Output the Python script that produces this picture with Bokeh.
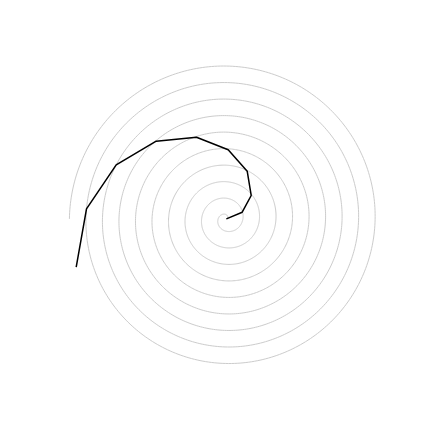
import numpy as np
from bokeh.plotting import figure
from bokeh.embed import file_html
from bokeh.resources import INLINE

# Black path (data coordinates)
path_x = [0.0, 6.01, 9.43, 7.91, 0.68, -11.37, -26.69, -41.90, -53.19, -57.11]
path_y = [0.0, 2.55, 8.90, 18.14, 26.27, 31.06, 29.54, 20.57, 3.84, -18.37]

# Background guide spiral: r = theta, 9.5 turns
spiral_turns = 9.5

p = figure(width=416, height=416, output_backend="svg", toolbar_location=None,
           x_range=(-85.89, 72.28), y_range=(-75.13, 83.04),
           min_border=0, outline_line_color=None)
p.axis.visible = False
p.grid.visible = False
p.background_fill_color = "white"
p.border_fill_color = "white"

t = np.linspace(0, spiral_turns * 2 * np.pi, 3000)
p.line(t * np.cos(t), t * np.sin(t), line_color="#cccccc", line_width=1)

p.line(path_x, path_y, line_color="black", line_width=1.5)

open("out.html", "w").write(file_html(p, INLINE))
